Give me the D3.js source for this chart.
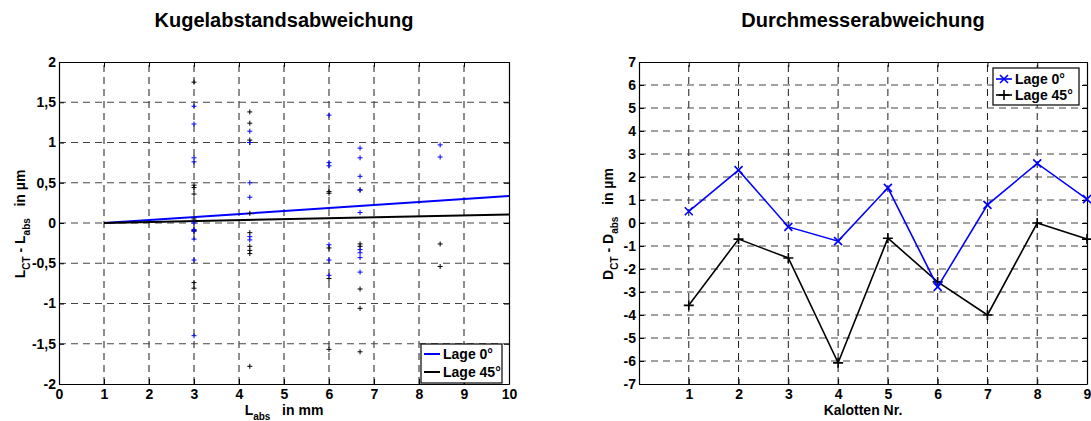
<!DOCTYPE html>
<html>
<head>
<meta charset="utf-8">
<script src="https://cdn.jsdelivr.net/npm/d3@7"></script>
<style>
  body { margin: 0; background: #fff; }
  svg { font-family: "Liberation Sans", Arial, sans-serif; font-weight: bold; }
</style>
</head>
<body>
<div id="chart"></div>
<script>
// --- left plot: Kugelabstandsabweichung ---
var kugelPos = [3, 4.24, 6, 6.69, 8.47];
var abw0 = [
  [1.45, 1.23, 0.81, 0.76, 0, -0.08, -0.1, -0.2, -0.46, -1.4],
  [1.14, 1.0, 0.5, 0.32, -0.17, -0.21],
  [1.34, 0.75, 0.71, -0.27, -0.46, -0.65],
  [0.93, 0.81, 0.58, 0.41, 0.13, -0.33, -0.37, -0.43, -0.61],
  [0.97, 0.82]
];
var abw45 = [
  [1.75, 0.47, 0.44, 0.36, 0.05, -0.09, -0.1, -0.74, -0.81],
  [1.38, 1.24, 1.03, 1.0, 0.12, -0.12, -0.29, -0.34, -0.38, -1.78],
  [0.39, 0.37, -0.31, -0.69, -1.57],
  [0.41, -0.26, -0.29, -0.82, -1.06, -1.6],
  [-0.26, -0.54]
];
var fitX = [1, 10];
var fit0 = [0, 0.335];
var fit45 = [0, 0.107];
var leftXTicks = [0, 1, 2, 3, 4, 5, 6, 7, 8, 9, 10];
var leftYTicks = [-2, -1.5, -1, -0.5, 0, 0.5, 1, 1.5, 2];

// --- right plot: Durchmesserabweichung ---
var kalotten = [1, 2, 3, 4, 5, 6, 7, 8, 9];
var durch0 = [0.51, 2.3, -0.17, -0.79, 1.53, -2.78, 0.79, 2.59, 1.04];
var durch45 = [-3.58, -0.7, -1.52, -6.08, -0.66, -2.56, -4.0, 0.0, -0.7];
var rightXTicks = [1, 2, 3, 4, 5, 6, 7, 8, 9];
var rightYTicks = [-7, -6, -5, -4, -3, -2, -1, 0, 1, 2, 3, 4, 5, 6, 7];

var legendNames = ["Lage 0°", "Lage 45°"];
var blue = "#0000ff", black = "#000000";

var svg = d3.select("#chart").append("svg")
    .attr("width", 1091).attr("height", 421);
svg.append("rect").attr("width", 1091).attr("height", 421).attr("fill", "#fff");

var comma = function(d) { return String(d).replace(".", ","); };

function frame(x, y, xTicks, yTicks) {
    var g = svg.append("g");
    var x0 = x.range()[0], x1 = x.range()[1], y0 = y.range()[0], y1 = y.range()[1];
    // dashed grid
    g.selectAll(".vg").data(xTicks.filter(function(d) { return x(d) > x0 + 1 && x(d) < x1 - 1; }))
        .enter().append("line")
        .attr("x1", function(d) { return x(d); }).attr("x2", function(d) { return x(d); })
        .attr("y1", y0).attr("y2", y1)
        .attr("stroke", "#000").attr("stroke-width", 0.9).attr("stroke-dasharray", "7,5");
    g.selectAll(".hg").data(yTicks.filter(function(d) { return y(d) < y0 - 1 && y(d) > y1 + 1; }))
        .enter().append("line")
        .attr("y1", function(d) { return y(d); }).attr("y2", function(d) { return y(d); })
        .attr("x1", x0).attr("x2", x1)
        .attr("stroke", "#444").attr("stroke-width", 1).attr("stroke-dasharray", "7,5");
    // axes, ticks inward on all sides
    var ax = [
        [d3.axisBottom(x).tickValues(xTicks).tickSizeInner(-5).tickSizeOuter(0).tickPadding(5).tickFormat(comma), 0, y0],
        [d3.axisTop(x).tickValues(xTicks).tickSizeInner(-5).tickSizeOuter(0).tickFormat(""), 0, y1],
        [d3.axisLeft(y).tickValues(yTicks).tickSizeInner(-5).tickSizeOuter(0).tickPadding(3).tickFormat(comma), x0, 0],
        [d3.axisRight(y).tickValues(yTicks).tickSizeInner(-5).tickSizeOuter(0).tickFormat(""), x1, 0]
    ];
    ax.forEach(function(a) {
        var s = g.append("g").attr("transform", "translate(" + a[1] + "," + a[2] + ")").call(a[0]);
        s.selectAll("text").attr("font-size", 14).attr("font-family", "Liberation Sans, Arial").attr("font-weight", "bold").attr("fill", "#000");
        s.select(".domain").attr("stroke-width", 1.2);
    });
    return g;
}

function plus(r) { return "M" + (-r) + ",0H" + r + "M0," + (-r) + "V" + r; }
function cross(r) { return "M" + (-r) + "," + (-r) + "L" + r + "," + r + "M" + (-r) + "," + r + "L" + r + "," + (-r); }

// ---------- left ----------
var xL = d3.scaleLinear().domain([0, 10]).range([59, 509]);
var yL = d3.scaleLinear().domain([-2, 2]).range([384, 62]);
frame(xL, yL, leftXTicks, leftYTicks);

var lineL = d3.line().x(function(d) { return xL(d[0]); }).y(function(d) { return yL(d[1]); });
svg.append("path").datum(d3.zip(fitX, fit0)).attr("d", lineL)
    .attr("fill", "none").attr("stroke", blue).attr("stroke-width", 2);
svg.append("path").datum(d3.zip(fitX, fit45)).attr("d", lineL)
    .attr("fill", "none").attr("stroke", black).attr("stroke-width", 2);

function scatter(vals, color) {
    var pts = [];
    vals.forEach(function(list, i) { list.forEach(function(v) { pts.push([kugelPos[i], v]); }); });
    svg.append("g").selectAll("path").data(pts).enter().append("path")
        .attr("transform", function(d) { return "translate(" + xL(d[0]) + "," + yL(d[1]) + ")"; })
        .attr("d", plus(2.5)).attr("stroke", color).attr("stroke-width", 1).attr("fill", "none");
}
scatter(abw45, black);
scatter(abw0, blue);

// legend left
var lgL = svg.append("g").attr("transform", "translate(421,344)");
lgL.append("rect").attr("width", 81).attr("height", 39).attr("fill", "#fff").attr("stroke", "#000").attr("stroke-width", 1.2);
[blue, black].forEach(function(c, i) {
    lgL.append("line").attr("x1", 3).attr("x2", 19).attr("y1", 10 + i * 18).attr("y2", 10 + i * 18)
        .attr("stroke", c).attr("stroke-width", 2);
    lgL.append("text").attr("x", 22).attr("y", 15 + i * 18).attr("font-size", 14).text(legendNames[i]);
});

// titles & labels left
svg.append("text").attr("x", 284).attr("y", 27).attr("text-anchor", "middle").attr("font-size", 20)
    .text("Kugelabstandsabweichung");
var xlabL = svg.append("text").attr("x", 284).attr("y", 415).attr("text-anchor", "middle").attr("font-size", 14)
    .attr("xml:space", "preserve");
xlabL.append("tspan").text("L");
xlabL.append("tspan").attr("font-size", 10).attr("dy", 5).text("abs");
xlabL.append("tspan").attr("dy", -5).text("   in mm");
var ylabL = svg.append("text").attr("transform", "translate(25,224) rotate(-90)").attr("text-anchor", "middle").attr("font-size", 14)
    .attr("xml:space", "preserve");
ylabL.append("tspan").text("L");
ylabL.append("tspan").attr("font-size", 10).attr("dy", 5).text("CT");
ylabL.append("tspan").attr("dy", -5).text(" - L");
ylabL.append("tspan").attr("font-size", 10).attr("dy", 5).text("abs");
ylabL.append("tspan").attr("dy", -5).text("   in µm");

// ---------- right ----------
var xR = d3.scaleLinear().domain([0, 9]).range([639, 1087]);
var yR = d3.scaleLinear().domain([-7, 7]).range([384, 62]);
frame(xR, yR, rightXTicks, rightYTicks);

var lineR = d3.line().x(function(d, i) { return xR(kalotten[i]); }).y(function(d) { return yR(d); });
[[durch45, black, plus(5)], [durch0, blue, cross(4)]].forEach(function(s) {
    svg.append("path").datum(s[0]).attr("d", lineR).attr("fill", "none").attr("stroke", s[1]).attr("stroke-width", 1.6);
    svg.append("g").selectAll("path").data(s[0]).enter().append("path")
        .attr("transform", function(d, i) { return "translate(" + xR(kalotten[i]) + "," + yR(d) + ")"; })
        .attr("d", s[2]).attr("stroke", s[1]).attr("stroke-width", 1.6).attr("fill", "none");
});

// legend right
var lgR = svg.append("g").attr("transform", "translate(993,68)");
lgR.append("rect").attr("width", 86).attr("height", 37).attr("fill", "#fff").attr("stroke", "#000").attr("stroke-width", 1.2);
[[blue, cross(4)], [black, plus(5)]].forEach(function(s, i) {
    var yy = 11 + i * 16;
    lgR.append("line").attr("x1", 3).attr("x2", 19).attr("y1", yy).attr("y2", yy).attr("stroke", s[0]).attr("stroke-width", 1.6);
    lgR.append("path").attr("transform", "translate(11," + yy + ")").attr("d", s[1]).attr("stroke", s[0]).attr("stroke-width", 1.6).attr("fill", "none");
    lgR.append("text").attr("x", 22).attr("y", yy + 5).attr("font-size", 14).text(legendNames[i]);
});

svg.append("text").attr("x", 863).attr("y", 27).attr("text-anchor", "middle").attr("font-size", 20)
    .text("Durchmesserabweichung");
svg.append("text").attr("x", 863).attr("y", 415).attr("text-anchor", "middle").attr("font-size", 14)
    .text("Kalotten Nr.");
var ylabR = svg.append("text").attr("transform", "translate(613,224) rotate(-90)").attr("text-anchor", "middle").attr("font-size", 14)
    .attr("xml:space", "preserve");
ylabR.append("tspan").text("D");
ylabR.append("tspan").attr("font-size", 10).attr("dy", 5).text("CT");
ylabR.append("tspan").attr("dy", -5).text(" - D");
ylabR.append("tspan").attr("font-size", 10).attr("dy", 5).text("abs");
ylabR.append("tspan").attr("dy", -5).text("   in µm");
</script>
</body>
</html>
